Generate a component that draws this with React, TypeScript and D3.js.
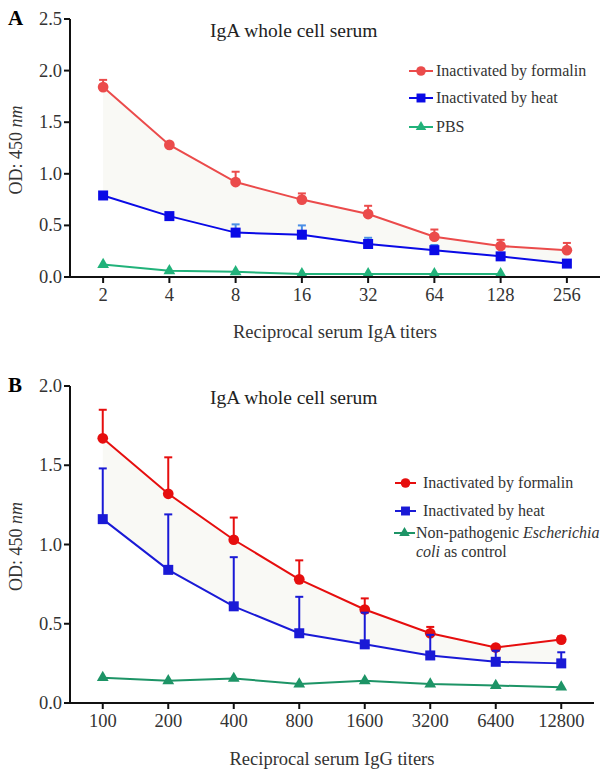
import React from "react";
import { scaleLinear, scalePoint, line, area, symbol, symbolCircle, symbolSquare, symbolTriangle } from "d3";

// Panel A
const titersA = ["2", "4", "8", "16", "32", "64", "128", "256"];
const formalinA = [1.84, 1.28, 0.92, 0.75, 0.61, 0.39, 0.30, 0.26];
const formalinErrA = [0.07, 0, 0.10, 0.06, 0.08, 0.07, 0.06, 0.07];
const heatA = [0.79, 0.59, 0.43, 0.41, 0.32, 0.26, 0.20, 0.13];
const heatErrA = [0, 0, 0.08, 0.09, 0.06, 0.05, 0.03, 0];
const pbsA = [0.12, 0.06, 0.05, 0.03, 0.03, 0.03, 0.03];
const yTicksA = [0, 0.5, 1.0, 1.5, 2.0, 2.5];

// Panel B
const titersB = ["100", "200", "400", "800", "1600", "3200", "6400", "12800"];
const formalinB = [1.67, 1.32, 1.03, 0.78, 0.59, 0.44, 0.35, 0.40];
const formalinErrB = [0.18, 0.23, 0.14, 0.12, 0.07, 0.04, 0, 0.02];
const heatB = [1.16, 0.84, 0.61, 0.44, 0.37, 0.30, 0.26, 0.25];
const heatErrB = [0.32, 0.35, 0.31, 0.23, 0.20, 0.13, 0.07, 0.07];
const controlB = [0.16, 0.14, 0.155, 0.12, 0.14, 0.12, 0.11, 0.10];
const yTicksB = [0, 0.5, 1.0, 1.5, 2.0];

const FONT = "Liberation Serif, Times New Roman, serif";

type Series = {
  values: number[];
  errs?: number[];
  color: string;
  errColor?: string;
  shape: "circle" | "square" | "triangle";
};

interface PanelProps {
  letter: string;
  top: number;
  bottom: number;
  axisRight: number;
  yMax: number;
  yTicks: number[];
  titers: string[];
  series: Series[];
  xTitle: string;
  xTitleGap: number;
  legend: React.ReactNode;
}

const shapes = { circle: symbolCircle, square: symbolSquare, triangle: symbolTriangle };
const sizes = { circle: 90, square: 100, triangle: 60 };

const Panel: React.FC<PanelProps> = ({ letter, top, bottom, axisRight, yMax, yTicks, titers, series, xTitle, xTitleGap, legend }) => {
  const left = 70;
  const x = scalePoint<string>().domain(titers).range([left, axisRight]).padding(0.5);
  const y = scaleLinear().domain([0, yMax]).range([bottom, top]);
  const mk = line<number>().x((_, i) => x(titers[i])!).y((d) => y(d));

  // faint band between the two immunised groups
  const [upper, lower] = series;
  const band = area<number>()
    .x((_, i) => x(titers[i])!)
    .y0((_, i) => y(lower.values[i]))
    .y1((d) => y(d));

  return (
    <g>
      <text x={8} y={top + 6} fontFamily={FONT} fontWeight="bold" fontSize={21}>{letter}</text>
      <path d={band(upper.values) ?? ""} fill="#f9f9f5" />
      {series.map((s, si) => (
        <g key={si}>
          {s.errs && s.values.map((v, i) => {
            const e = s.errs![i];
            if (!e) return null;
            const cx = x(titers[i])!;
            return (
              <g key={i} stroke={s.errColor ?? s.color} strokeWidth={2}>
                <line x1={cx} x2={cx} y1={y(v)} y2={y(v + e)} />
                <line x1={cx - 4} x2={cx + 4} y1={y(v + e)} y2={y(v + e)} />
              </g>
            );
          })}
          <path d={mk(s.values) ?? ""} fill="none" stroke={s.color} strokeWidth={2} />
          {s.values.map((v, i) => (
            <path
              key={i}
              transform={`translate(${x(titers[i])},${y(v)})`}
              d={symbol(shapes[s.shape], sizes[s.shape])() ?? ""}
              fill={s.color}
            />
          ))}
        </g>
      ))}
      {/* axes */}
      <line x1={left} x2={left} y1={top} y2={bottom + 1} stroke="#111" strokeWidth={2} />
      <line x1={left - 1} x2={axisRight} y1={bottom} y2={bottom} stroke="#111" strokeWidth={2} />
      {yTicks.map((t) => (
        <g key={t}>
          <line x1={left - 6} x2={left} y1={y(t)} y2={y(t)} stroke="#111" strokeWidth={2} />
          <text x={left - 8} y={y(t) + 6} textAnchor="end" fontFamily={FONT} fontSize={18.5} fill="#333">{t.toFixed(1)}</text>
        </g>
      ))}
      {titers.map((t) => (
        <g key={t}>
          <line x1={x(t)} x2={x(t)} y1={bottom} y2={bottom + 6} stroke="#111" strokeWidth={2} />
          <text x={x(t)} y={bottom + 24} textAnchor="middle" fontFamily={FONT} fontSize={18.5} fill="#333">{t}</text>
        </g>
      ))}
      <text
        transform={`translate(22,${(top + bottom) / 2 + 2}) rotate(-90)`}
        textAnchor="middle"
        fontFamily={FONT}
        fontSize={18}
        fill="#333"
      >
        OD: 450 <tspan fontStyle="italic">nm</tspan>
      </text>
      <text x={(left + axisRight) / 2} y={bottom + xTitleGap} textAnchor="middle" fontFamily={FONT} fontSize={18.5} fill="#333">{xTitle}</text>
      <text x={210} y={top + 18} fontFamily={FONT} fontSize={19.5} fill="#222">IgA whole cell serum</text>
      {legend}
    </g>
  );
};

const LegendRow: React.FC<{ x: number; y: number; color: string; shape: Series["shape"]; w: number; gap: number; children: React.ReactNode }> = ({ x, y, color, shape, w, gap, children }) => (
  <g>
    <line x1={x} x2={x + w} y1={y} y2={y} stroke={color} strokeWidth={2} />
    <path transform={`translate(${x + w / 2},${y})`} d={symbol(shapes[shape], sizes[shape] * 0.8)() ?? ""} fill={color} />
    <text x={x + w + gap} y={y + 5} fontFamily={FONT} fontSize={16} fill="#333">{children}</text>
  </g>
);

export default function App() {
  const redA = "#eb4b4b";
  const blueA = "#0a0ae6";
  const greenA = "#21b27a";
  const redB = "#e60e0e";
  const blueB = "#1a1ad6";
  const greenB = "#1d9466";

  return (
    <svg width={601} height={774} style={{ position: "absolute", left: 0, top: 0, background: "#fff" }}>
      <Panel
        letter="A"
        top={19}
        bottom={277}
        axisRight={600}
        yMax={2.5}
        yTicks={yTicksA}
        titers={titersA}
        xTitle="Reciprocal serum IgA titers"
        xTitleGap={61}
        series={[
          { values: formalinA, errs: formalinErrA, color: redA, shape: "circle" },
          { values: heatA, errs: heatErrA, color: blueA, errColor: "#4a8ee6", shape: "square" },
          { values: pbsA, color: greenA, shape: "triangle" },
        ]}
        legend={
          <g>
            <LegendRow x={409} y={71} w={24} gap={3} color={redA} shape="circle">Inactivated by formalin</LegendRow>
            <LegendRow x={409} y={98} w={24} gap={3} color={blueA} shape="square">Inactivated by heat</LegendRow>
            <LegendRow x={409} y={127} w={24} gap={3} color={greenA} shape="triangle">PBS</LegendRow>
          </g>
        }
      />
      <Panel
        letter="B"
        top={386}
        bottom={703}
        axisRight={594}
        yMax={2.0}
        yTicks={yTicksB}
        titers={titersB}
        xTitle="Reciprocal serum IgG titers"
        xTitleGap={62}
        series={[
          { values: formalinB, errs: formalinErrB, color: redB, shape: "circle" },
          { values: heatB, errs: heatErrB, color: blueB, shape: "square" },
          { values: controlB, color: greenB, shape: "triangle" },
        ]}
        legend={
          <g>
            <LegendRow x={395} y={483} w={21} gap={7} color={redB} shape="circle">Inactivated by formalin</LegendRow>
            <LegendRow x={395} y={511} w={21} gap={7} color={blueB} shape="square">Inactivated by heat</LegendRow>
            <LegendRow x={394} y={533} w={21} gap={1} color={greenB} shape="triangle">
              Non-pathogenic <tspan fontStyle="italic">Escherichia</tspan>
            </LegendRow>
            <text x={416} y={557} fontFamily={FONT} fontSize={16} fill="#333">
              <tspan fontStyle="italic">coli</tspan> as control
            </text>
          </g>
        }
      />
    </svg>
  );
}
